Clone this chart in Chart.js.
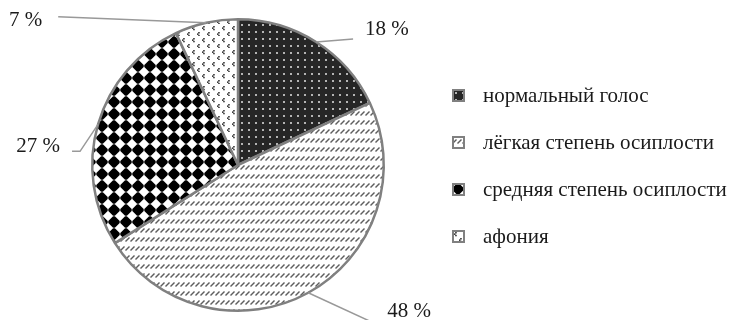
<!DOCTYPE html>
<html>
<head>
<meta charset="utf-8">
<script src="https://cdn.jsdelivr.net/npm/chart.js@4"></script>
<style>
	html, body { margin: 0; padding: 0; background: #fff; }
	#wrap { position: relative; width: 735px; height: 320px; }
	#legend-container { position: absolute; left: 452px; top: 72px; }
	#legend-container ul { list-style: none; margin: 0; padding: 0; }
	#legend-container li { display: flex; align-items: center; height: 47px; }
	#legend-container p {
		margin: 0; padding: 0; color: #1a1a1a; white-space: nowrap;
		font-family: "Liberation Serif", "Times New Roman", serif; font-size: 21px;
	}
</style>
</head>
<body>
<div id="wrap">
	<canvas id="pieChart" width="735" height="320"></canvas>
	<div id="legend-container"></div>
</div>
<script>
const categories = [
	"нормальный голос",
	"лёгкая степень осиплости",
	"средняя степень осиплости",
	"афония",
];
const shares = [18, 48, 27, 7];
const shareLabels = ["18 %", "48 %", "27 %", "7 %"];

// leader lines: points relative to the slice edge, then text offset + align
const leaders = [
	{ line: [[37, -3]], text: [49, -12], align: "left" },
	{ line: [[65, 30]], text: [79, 19], align: "left" },
	{ line: [[-18, 27], [-26, 27]], text: [-38, 22], align: "right" },
	{ line: [[-148, -6]], text: [-164, -2], align: "right" },
];

const serif = '"Liberation Serif", "Times New Roman", serif';

// pattern tiles, one per slice
function dotsTile() {
	const c = document.createElement("canvas");
	c.width = 7; c.height = 7;
	const g = c.getContext("2d");
	g.fillStyle = "#262626";
	g.fillRect(0, 0, 7, 7);
	g.fillStyle = "#b4b4b4";
	g.fillRect(3, 3, 2, 2);
	return c;
}

function hatchTile() {
	const c = document.createElement("canvas");
	c.width = 5; c.height = 9;
	const g = c.getContext("2d");
	g.fillStyle = "#fff";
	g.fillRect(0, 0, 5, 9);
	g.strokeStyle = "#5e5e5e";
	g.lineWidth = 1.4;
	g.beginPath();
	g.moveTo(0.5, 7.5);
	g.lineTo(4.5, 3.5);
	g.stroke();
	return c;
}

// solid diamonds on a square grid, tips almost touching
function diamondTile() {
	const s = 12;
	const c = document.createElement("canvas");
	c.width = s; c.height = s;
	const g = c.getContext("2d");
	g.fillStyle = "#fff";
	g.fillRect(0, 0, s, s);
	g.fillStyle = "#000";
	const m = s / 2, r = 5.7;
	g.beginPath();
	g.moveTo(m - 0.9, m - r);
	g.lineTo(m + 0.9, m - r);
	g.lineTo(m + r, m - 0.9);
	g.lineTo(m + r, m + 0.9);
	g.lineTo(m + 0.9, m + r);
	g.lineTo(m - 0.9, m + r);
	g.lineTo(m - r, m + 0.9);
	g.lineTo(m - r, m - 0.9);
	g.closePath();
	g.fill();
	return c;
}

function markTile() {
	const c = document.createElement("canvas");
	c.width = 10; c.height = 12;
	const g = c.getContext("2d");
	g.fillStyle = "#fff";
	g.fillRect(0, 0, 10, 12);
	g.fillStyle = "#2a2a2a";
	[[2, 2], [7, 8]].forEach(([x, y]) => {
		g.fillRect(x + 1.2, y, 1.5, 1.5);
		g.fillRect(x, y + 1.4, 1.5, 1.5);
		g.fillRect(x + 1.2, y + 2.8, 1.5, 1.5);
	});
	return c;
}

const tiles = [dotsTile(), hatchTile(), diamondTile(), markTile()];
const canvas = document.getElementById("pieChart");
const ctx = canvas.getContext("2d");
const patterns = tiles.map((t) => ctx.createPattern(t, "repeat"));

const outsideLabels = {
	id: "outsideLabels",
	afterDatasetsDraw(chart) {
		const c = chart.ctx;
		const meta = chart.getDatasetMeta(0);
		meta.data.forEach((arc, i) => {
			const { x, y, startAngle, endAngle, outerRadius } = arc.getProps(
				["x", "y", "startAngle", "endAngle", "outerRadius"], true);
			const mid = (startAngle + endAngle) / 2;
			const ex = x + Math.cos(mid) * outerRadius;
			const ey = y + Math.sin(mid) * outerRadius;
			const lead = leaders[i];
			c.save();
			c.strokeStyle = "#999";
			c.lineWidth = 1.5;
			c.beginPath();
			c.moveTo(ex, ey);
			lead.line.forEach(([dx, dy]) => c.lineTo(ex + dx, ey + dy));
			c.stroke();
			c.font = "21px " + serif;
			c.fillStyle = "#1a1a1a";
			c.textAlign = lead.align;
			c.textBaseline = "middle";
			c.fillText(shareLabels[i], ex + lead.text[0], ey + lead.text[1]);
			c.restore();
		});
	},
};

const htmlLegendPlugin = {
	id: "htmlLegend",
	afterUpdate(chart, args, options) {
		const box = document.getElementById(options.containerID);
		box.innerHTML = "";
		const ul = document.createElement("ul");
		chart.data.labels.forEach((label, i) => {
			const li = document.createElement("li");
			const sw = document.createElement("canvas");
			sw.width = 13; sw.height = 13;
			sw.style.marginRight = "18px";
			const g = sw.getContext("2d");
			g.fillStyle = g.createPattern(tiles[i], "repeat");
			g.fillRect(0, 0, 13, 13);
			g.strokeStyle = "#808080";
			g.lineWidth = 2;
			g.strokeRect(1, 1, 11, 11);
			const p = document.createElement("p");
			p.textContent = label;
			li.appendChild(sw);
			li.appendChild(p);
			ul.appendChild(li);
		});
		box.appendChild(ul);
	},
};

new Chart(canvas, {
	type: "pie",
	data: {
		labels: categories,
		datasets: [{
			data: shares,
			backgroundColor: patterns,
			borderColor: "#808080",
			borderWidth: 2.5,
		}],
	},
	options: {
		responsive: false,
		animation: false,
		events: [],
		layout: { padding: { left: 91, right: 350, top: 18, bottom: 8 } },
		plugins: {
			legend: { display: false },
			tooltip: { enabled: false },
			htmlLegend: { containerID: "legend-container" },
		},
	},
	plugins: [outsideLabels, htmlLegendPlugin],
});
</script>
</body>
</html>
